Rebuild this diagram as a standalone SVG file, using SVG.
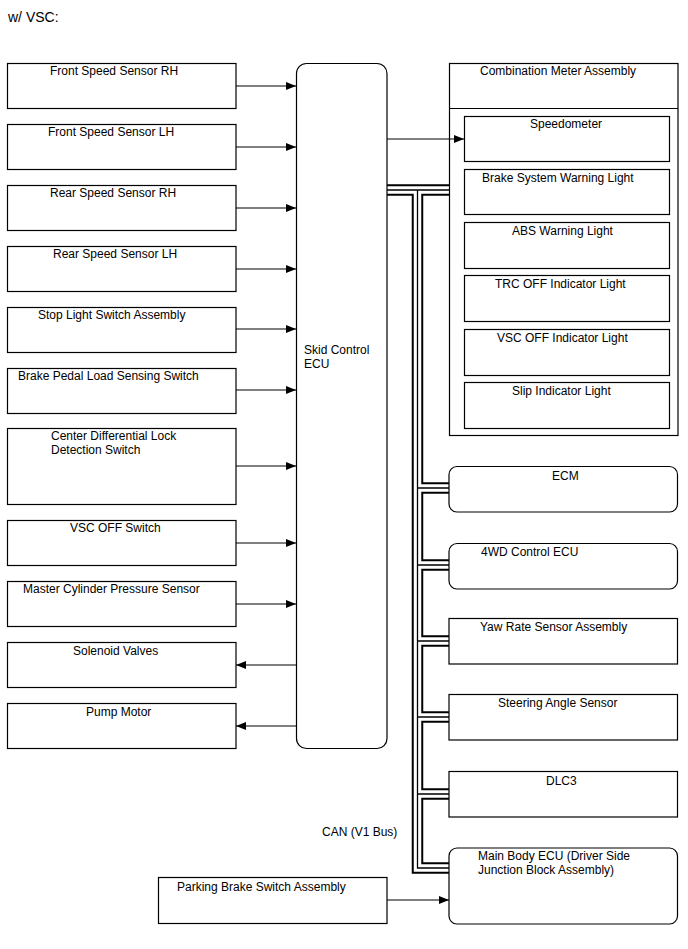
<svg xmlns="http://www.w3.org/2000/svg" width="688" height="949" viewBox="0 0 688 949">
<style>
  .box{fill:#fff;stroke:#000;stroke-width:1.2}
  .frame{fill:none;stroke:#000;stroke-width:1.2}
  text{font-family:"Liberation Sans",Arial,sans-serif;font-size:12px;fill:#000}
  .title{font-size:14px}
  .wire{fill:none;stroke:#000;stroke-width:1.2}
  .busO{fill:none;stroke:#000;stroke-width:11.5;stroke-linejoin:miter}
  .busW{fill:none;stroke:#fff;stroke-width:7.5;stroke-linejoin:miter}
  .busC{fill:none;stroke:#000;stroke-width:1.3;stroke-linejoin:miter}
</style>
<defs>
  <marker id="ah" viewBox="0 0 10 8" refX="10" refY="4" markerWidth="10" markerHeight="8" markerUnits="userSpaceOnUse" orient="auto">
    <path d="M0,0 L10,4 L0,8 Z" fill="#000"/>
  </marker>
</defs>
<rect width="688" height="949" fill="#fff"/>
<text class="title" x="8" y="22">w/ VSC:</text>

<g id="connectors">
  <line class="wire" x1="236" y1="86" x2="296" y2="86" marker-end="url(#ah)"/>
  <line class="wire" x1="236" y1="147" x2="296" y2="147" marker-end="url(#ah)"/>
  <line class="wire" x1="236" y1="208" x2="296" y2="208" marker-end="url(#ah)"/>
  <line class="wire" x1="236" y1="269" x2="296" y2="269" marker-end="url(#ah)"/>
  <line class="wire" x1="236" y1="329" x2="296" y2="329" marker-end="url(#ah)"/>
  <line class="wire" x1="236" y1="390" x2="296" y2="390" marker-end="url(#ah)"/>
  <line class="wire" x1="236" y1="466" x2="296" y2="466" marker-end="url(#ah)"/>
  <line class="wire" x1="236" y1="543" x2="296" y2="543" marker-end="url(#ah)"/>
  <line class="wire" x1="236" y1="604" x2="296" y2="604" marker-end="url(#ah)"/>
  <line class="wire" x1="296" y1="665" x2="236" y2="665" marker-end="url(#ah)"/>
  <line class="wire" x1="296" y1="726" x2="236" y2="726" marker-end="url(#ah)"/>
  <line class="wire" x1="387" y1="139" x2="464" y2="139" marker-end="url(#ah)"/>
  <line class="wire" x1="387" y1="900" x2="449" y2="900" marker-end="url(#ah)"/>
  <g id="can-bus">
    <path class="busO" d="M387,190 H449 M417.5,190 V868 H449 M417.5,488 H449 M417.5,565 H449 M417.5,641 H449 M417.5,717 H449 M417.5,794 H449"/>
    <path class="busW" d="M387,190 H449 M417.5,190 V868 H449 M417.5,488 H449 M417.5,565 H449 M417.5,641 H449 M417.5,717 H449 M417.5,794 H449"/>
    <path class="busC" d="M387,190 H449 M417.5,190 V868 H449 M417.5,488 H449 M417.5,565 H449 M417.5,641 H449 M417.5,717 H449 M417.5,794 H449"/>
  </g>
  <text x="322" y="836">CAN (V1 Bus)</text>
</g>

<g id="front-speed-sensor-rh"><rect class="box" x="7.5" y="63.5" width="228.5" height="45"/><text x="50" y="75">Front Speed Sensor RH</text></g>
<g id="front-speed-sensor-lh"><rect class="box" x="7.5" y="124.5" width="228.5" height="45"/><text x="48" y="136">Front Speed Sensor LH</text></g>
<g id="rear-speed-sensor-rh"><rect class="box" x="7.5" y="185.5" width="228.5" height="45"/><text x="50" y="197">Rear Speed Sensor RH</text></g>
<g id="rear-speed-sensor-lh"><rect class="box" x="7.5" y="246.5" width="228.5" height="45"/><text x="53" y="258">Rear Speed Sensor LH</text></g>
<g id="stop-light-switch"><rect class="box" x="7.5" y="307.5" width="228.5" height="45"/><text x="38" y="319">Stop Light Switch Assembly</text></g>
<g id="brake-pedal-switch"><rect class="box" x="7.5" y="368.5" width="228.5" height="45"/><text x="18" y="380">Brake Pedal Load Sensing Switch</text></g>
<g id="center-diff-lock"><rect class="box" x="7.5" y="428.5" width="228.5" height="76"/><text x="51" y="440">Center Differential Lock</text><text x="51" y="454">Detection Switch</text></g>
<g id="vsc-off-switch"><rect class="box" x="7.5" y="520.5" width="228.5" height="45"/><text x="70" y="532">VSC OFF Switch</text></g>
<g id="master-cylinder-sensor"><rect class="box" x="7.5" y="581.5" width="228.5" height="45"/><text x="23" y="593">Master Cylinder Pressure Sensor</text></g>
<g id="solenoid-valves"><rect class="box" x="7.5" y="642.5" width="228.5" height="45"/><text x="73" y="655">Solenoid Valves</text></g>
<g id="pump-motor"><rect class="box" x="7.5" y="703.5" width="228.5" height="45"/><text x="86" y="716">Pump Motor</text></g>

<g id="skid-control-ecu"><rect class="box" x="296.5" y="63.5" width="90.5" height="685" rx="10"/><text x="304" y="354">Skid Control</text><text x="304" y="368">ECU</text></g>

<g id="combination-meter">
  <rect class="frame" x="449.5" y="63.5" width="228.5" height="372"/>
  <line class="frame" x1="449.5" y1="108.5" x2="678" y2="108.5"/>
  <text x="480" y="75">Combination Meter Assembly</text>
  <g id="speedometer"><rect class="box" x="464.5" y="116.5" width="205" height="45"/><text x="530" y="128">Speedometer</text></g>
  <g id="brake-warning"><rect class="box" x="464.5" y="169.5" width="205" height="45"/><text x="482" y="182">Brake System Warning Light</text></g>
  <g id="abs-warning"><rect class="box" x="464.5" y="222.5" width="205" height="46"/><text x="512" y="235">ABS Warning Light</text></g>
  <g id="trc-off"><rect class="box" x="464.5" y="275.5" width="205" height="46"/><text x="495" y="288">TRC OFF Indicator Light</text></g>
  <g id="vsc-off-light"><rect class="box" x="464.5" y="329.5" width="205" height="46"/><text x="497" y="342">VSC OFF Indicator Light</text></g>
  <g id="slip-indicator"><rect class="box" x="464.5" y="382.5" width="205" height="46"/><text x="512" y="395">Slip Indicator Light</text></g>
</g>

<g id="ecm"><rect class="box" x="449" y="466.5" width="228.5" height="45.5" rx="8"/><text x="552" y="480">ECM</text></g>
<g id="4wd-control-ecu"><rect class="box" x="449" y="543.5" width="228.5" height="45.5" rx="8"/><text x="481" y="556">4WD Control ECU</text></g>
<g id="yaw-rate-sensor"><rect class="box" x="449" y="618.5" width="228.5" height="45.5"/><text x="480" y="631">Yaw Rate Sensor Assembly</text></g>
<g id="steering-angle-sensor"><rect class="box" x="449" y="694.5" width="228.5" height="45.5"/><text x="498" y="707">Steering Angle Sensor</text></g>
<g id="dlc3"><rect class="box" x="449" y="771.5" width="228.5" height="45.5"/><text x="546" y="785">DLC3</text></g>
<g id="main-body-ecu"><rect class="box" x="449" y="848" width="228.5" height="76" rx="8"/><text x="478" y="860">Main Body ECU (Driver Side</text><text x="478" y="874">Junction Block Assembly)</text></g>
<g id="parking-brake-switch"><rect class="box" x="158.5" y="877.5" width="228.5" height="46"/><text x="177" y="891">Parking Brake Switch Assembly</text></g>
</svg>
